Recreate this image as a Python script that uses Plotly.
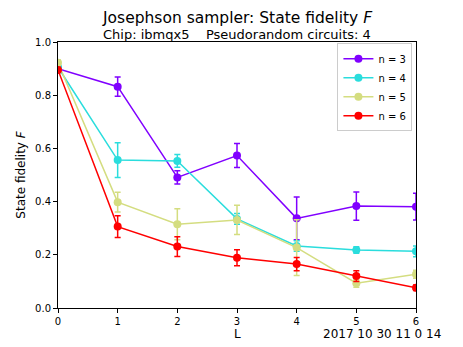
import plotly.graph_objects as go

# circuit depth L
L = [0, 1, 2, 3, 4, 5, 6]

# state fidelity F per number of qubits n
F_n3 = [0.900, 0.832, 0.491, 0.573, 0.337, 0.383, 0.381]
err_n3 = [0.010, 0.036, 0.025, 0.045, 0.080, 0.053, 0.050]

F_n4 = [0.905, 0.556, 0.553, 0.335, 0.233, 0.218, 0.213]
err_n4 = [0.010, 0.065, 0.024, 0.020, 0.020, 0.012, 0.020]

F_n5 = [0.922, 0.398, 0.315, 0.331, 0.227, 0.093, 0.127]
err_n5 = [0.010, 0.037, 0.058, 0.055, 0.105, 0.015, 0.015]

F_n6 = [0.895, 0.306, 0.231, 0.189, 0.165, 0.120, 0.076]
err_n6 = [0.010, 0.041, 0.037, 0.030, 0.025, 0.020, 0.010]

series = [
    ("n = 3", F_n3, err_n3, "#8000ff"),
    ("n = 4", F_n4, err_n4, "#2adddd"),
    ("n = 5", F_n5, err_n5, "#d4dd80"),
    ("n = 6", F_n6, err_n6, "#ff0000"),
]

font = "DejaVu Sans"

# page body has an 8px margin, so the figure is a bit smaller than the window
W, H = 455, 339
ml, mr, mt, mb = 50, 47, 34, 39
pw, ph = W - ml - mr, H - mt - mb


def px(x, y):
    # figure pixel (from top-left) -> paper coords
    return (x - ml) / pw, (H - y - mb) / ph


fig = go.Figure()
for name, y, e, c in series:
    fig.add_trace(go.Scatter(
        x=L, y=y, name=name, mode="lines+markers",
        line=dict(color=c, width=1.5),
        marker=dict(color=c, size=8),
        error_y=dict(type="data", array=e, color=c, thickness=1.5, width=3),
    ))

tx, ty = px(229, 9.5)
sx, sy = px(229, 26)
dx, dy = px(435, 326)
lx, ly = px(229, 326)

fig.update_layout(
    width=W, height=H,
    margin=dict(l=ml, r=mr, t=mt, b=mb),
    plot_bgcolor="white", paper_bgcolor="white",
    font=dict(family=font, size=10, color="black"),
    showlegend=True,
    legend=dict(x=0.99, y=0.995, xanchor="right", yanchor="top",
                bgcolor="rgba(255,255,255,0.8)", bordercolor="#cccccc", borderwidth=1,
                font=dict(size=10), itemwidth=30, tracegroupgap=0),
    xaxis=dict(range=[0, 6], tickvals=L, showgrid=False, zeroline=False,
               showline=True, linecolor="black", linewidth=1, mirror=True,
               ticks="outside", ticklen=4, tickcolor="black", automargin=False),
    yaxis=dict(range=[0, 1.0], tickvals=[0, 0.2, 0.4, 0.6, 0.8, 1.0],
               ticktext=["0.0", "0.2", "0.4", "0.6", "0.8", "1.0"],
               showgrid=False, zeroline=False,
               showline=True, linecolor="black", linewidth=1, mirror=True,
               ticks="outside", ticklen=4, tickcolor="black", automargin=False,
               title=dict(text="State fidelity <i>F</i>", font=dict(size=12), standoff=6)),
    annotations=[
        dict(text="Josephson sampler: State fidelity <i>F</i>", x=tx, y=ty,
             xref="paper", yref="paper", showarrow=False, font=dict(size=15.5),
             xanchor="center", yanchor="middle"),
        dict(text="Chip: ibmqx5    Pseudorandom circuits: 4", x=sx, y=sy,
             xref="paper", yref="paper", showarrow=False, font=dict(size=13),
             xanchor="center", yanchor="middle"),
        dict(text="L", x=lx, y=ly,
             xref="paper", yref="paper", showarrow=False, font=dict(size=12),
             xanchor="center", yanchor="middle"),
        dict(text="2017 10 30 11 0 14", x=dx, y=dy,
             xref="paper", yref="paper", showarrow=False, font=dict(size=12),
             xanchor="right", yanchor="middle"),
    ],
)

fig.write_html("out.html")
